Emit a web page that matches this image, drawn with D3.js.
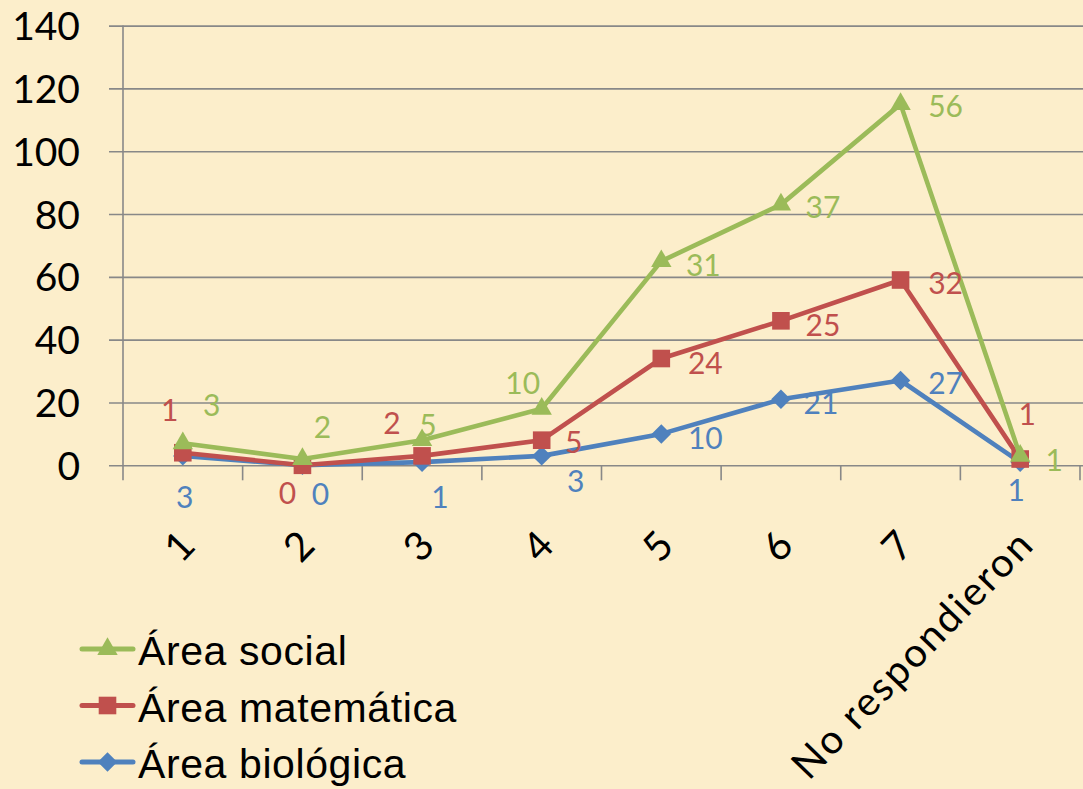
<!DOCTYPE html>
<html>
<head>
<meta charset="utf-8">
<script src="https://cdn.jsdelivr.net/npm/d3@7"></script>
<style>
  html, body { margin: 0; padding: 0; background: #FCEECB; }
  svg { display: block; }
</style>
</head>
<body>
<svg id="chart"></svg>
<script>
// categories and values (Excel stacked line chart)
var categories = ["1", "2", "3", "4", "5", "6", "7", "No respondieron"]
var biologica  = [3, 0, 1, 3, 10, 21, 27, 1]
var matematica = [1, 0, 2, 5, 24, 25, 32, 1]
var social     = [3, 2, 5, 10, 31, 37, 56, 1]
var yTicks = [0, 20, 40, 60, 80, 100, 120, 140]

var seriesNames = ["Área biológica", "Área matemática", "Área social"]
var seriesValues = [biologica, matematica, social]
var seriesColors = ["#4F81BD", "#C0504D", "#9BBB59"]

// manual label nudges (dx, dy from the point), as placed in the original
var labelOffsets = [
  [[2,41],[18,29],[18,35],[34,25],[44,4],[40,4],[45,3],[-4,28]],
  [[-13,-43],[-15,28],[-30,-33],[32,2],[44,5],[42,4],[45,3],[7,-45]],
  [[29,-38],[20,-32],[6,-15],[-19,-26],[42,4],[42,3],[45,2],[34,4]]
]

var dimensions = {
  width: 1083,
  height: 789,
  margin: { top: 25.6, left: 123, right: 3 },
  zeroY: 465.3
}

var svg = d3.select("#chart")
  .attr("width", dimensions.width)
  .attr("height", dimensions.height)

svg.append("rect")
  .attr("width", dimensions.width).attr("height", dimensions.height)
  .attr("fill", "#FCEECB")

var table = categories.map(function(c, i) {
  var row = { cat: c }
  seriesNames.forEach(function(s, j) { row[s] = seriesValues[j][i] })
  return row
})
var stacked = d3.stack().keys(seriesNames)(table)

var xScale = d3.scaleBand()
  .domain(categories)
  .range([dimensions.margin.left, dimensions.width - dimensions.margin.right])
  .padding(0)

var yScale = d3.scaleLinear()
  .domain([0, 140])
  .range([dimensions.zeroY, dimensions.margin.top])

// gridlines + y axis
var yAxisGen = d3.axisLeft(yScale)
  .tickValues(yTicks)
  .tickSize(-(dimensions.width - dimensions.margin.left))
  .tickSizeOuter(0)
var yAxis = svg.append("g")
  .attr("transform", `translate(${dimensions.margin.left},0)`)
  .call(yAxisGen)
yAxis.select(".domain").remove()
yAxis.selectAll(".tick line")
  .attr("x1", -14)
  .attr("stroke", "#888888").attr("stroke-width", 1.6)
yAxis.selectAll(".tick text")
  .attr("font-family", "Lato, 'Open Sans', sans-serif")
  .attr("font-size", 39)
  .attr("fill", "#000")
  .attr("x", -43)
  .attr("dy", "0.36em")

svg.append("line")
  .attr("x1", dimensions.margin.left).attr("x2", dimensions.margin.left)
  .attr("y1", dimensions.margin.top).attr("y2", dimensions.zeroY + 15)
  .attr("stroke", "#888888").attr("stroke-width", 1.6)

// x axis tick marks at category boundaries
var xAxis = svg.append("g")
  .attr("transform", `translate(0,${dimensions.zeroY})`)
xAxis.selectAll(".bound")
  .data(categories)
  .enter().append("line")
  .attr("x1", d => xScale(d) + xScale.bandwidth())
  .attr("x2", d => xScale(d) + xScale.bandwidth())
  .attr("y1", 0).attr("y2", 15)
  .attr("stroke", "#888888").attr("stroke-width", 1.6)

// rotated category labels
svg.append("g").selectAll("text")
  .data(categories)
  .enter().append("text")
  .attr("transform", d => `translate(${xScale(d) + xScale.bandwidth() / 2 + 16},546) rotate(-46)`)
  .attr("text-anchor", "end")
  .attr("font-family", "Lato, 'Open Sans', sans-serif")
  .attr("font-size", 40)
  .attr("letter-spacing", 2.2)
  .attr("fill", "#000")
  .text(d => d)

var cx = d => xScale(d.data.cat) + xScale.bandwidth() / 2

var markers = [
  d3.symbol().type(d3.symbolSquare).size(190),
  d3.symbol().type(d3.symbolSquare).size(310),
  d3.symbol().type(d3.symbolTriangle).size(180)
]
var markerRotate = [45, 0, 0]

stacked.forEach(function(layer, j) {
  var line = d3.line().x(cx).y(d => yScale(d[1]))
  var g = svg.append("g")
  g.append("path")
    .datum(layer)
    .attr("d", line)
    .attr("fill", "none")
    .attr("stroke", seriesColors[j])
    .attr("stroke-width", 4.6)
    .attr("stroke-linejoin", "round")
  g.selectAll(".m")
    .data(layer)
    .enter().append("path")
    .attr("d", markers[j])
    .attr("transform", d => `translate(${cx(d)},${yScale(d[1])}) rotate(${markerRotate[j]})`)
    .attr("fill", seriesColors[j])
})

// data labels (show each series' own value)
stacked.forEach(function(layer, j) {
  svg.append("g").selectAll("text")
    .data(layer)
    .enter().append("text")
    .attr("x", (d, i) => cx(d) + labelOffsets[j][i][0])
    .attr("y", (d, i) => yScale(d[1]) + labelOffsets[j][i][1])
    .attr("dy", "0.36em")
    .attr("text-anchor", "middle")
    .attr("font-family", "Lato, 'Open Sans', sans-serif")
    .attr("font-size", 30)
    .attr("fill", seriesColors[j])
    .text((d, i) => seriesValues[j][i])
})

// legend
var legendOrder = [2, 1, 0]
var legend = svg.append("g")
legendOrder.forEach(function(j, k) {
  var ly = 649 + k * 56.5
  legend.append("line")
    .attr("x1", 82).attr("x2", 133)
    .attr("y1", ly).attr("y2", ly)
    .attr("stroke", seriesColors[j]).attr("stroke-width", 5)
    .attr("stroke-linecap", "round")
  legend.append("path")
    .attr("d", markers[j])
    .attr("transform", `translate(107.5,${ly}) rotate(${markerRotate[j]})`)
    .attr("fill", seriesColors[j])
  legend.append("text")
    .attr("x", 138).attr("y", ly + 16)
    .attr("font-family", "'Liberation Sans', Arial, sans-serif")
    .attr("font-size", 41)
    .attr("letter-spacing", 0.6)
    .attr("fill", "#000")
    .text(seriesNames[j])
})
</script>
</body>
</html>
